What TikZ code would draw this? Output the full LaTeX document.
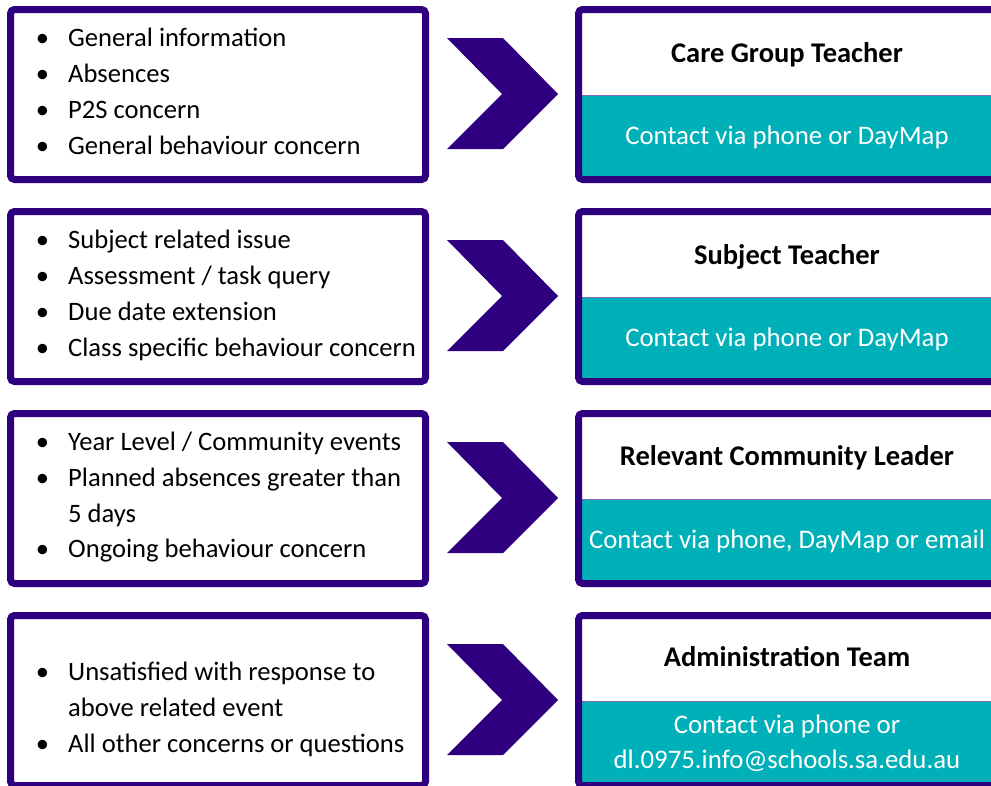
\documentclass[tikz,border=0pt]{standalone}
\usepackage{fontspec}
\setmainfont{Carlito}
\usepackage{tikz}
\definecolor{edge}{RGB}{46,0,128}
\definecolor{contact}{RGB}{0,176,185}
\newcommand{\itm}{\llap{\textbullet\hspace{19pt}}}

\begin{document}
\begin{tikzpicture}[x=1pt,y=-1pt,
    frame/.style={draw=edge,line width=7pt,rounded corners=4pt},
    item/.style={anchor=base west,inner sep=0pt,font=\fontsize{26.6}{32}\selectfont},
    head/.style={anchor=base,inner sep=0pt,font=\fontsize{28.5}{34}\selectfont\bfseries},
    via/.style={anchor=base,inner sep=0pt,text=white,font=\fontsize{26.8}{32}\selectfont}]
    \useasboundingbox (0,0) rectangle (991,785);
    \clip (0,0) rectangle (991,785);
    \foreach \t in {6,208,410,612}{
      \draw[frame] (10.5,\t+3.5) rectangle (425.5,\t+173.5);
      \fill[contact] (578.5,\t+89) rectangle (996,\t+173.5);
      \draw[edge!60,line width=1pt] (578.5,\t+89) -- (996,\t+89);
      \draw[frame] (578.5,\t+3.5) rectangle (996,\t+173.5);
      \fill[edge] (447,\t+32) -- (503,\t+32) -- (558,\t+88) -- (503,\t+143) -- (447,\t+143) -- (502,\t+88) -- cycle;
    }
    % left lists
    \node[item] (info1) at (68,46) {\itm General information};
    \node[item] (info2) at (68,82) {\itm Absences};
    \node[item] (info3) at (68,118) {\itm P2S concern};
    \node[item] (info4) at (68,154) {\itm General behaviour concern};
    \node[item] (subj1) at (68,248) {\itm Subject related issue};
    \node[item] (subj2) at (68,284) {\itm Assessment / task query};
    \node[item] (subj3) at (68,320) {\itm Due date extension};
    \node[item] (subj4) at (68,356) {\itm Class specific behaviour concern};
    \node[item] (year1) at (68,450) {\itm Year Level / Community events};
    \node[item] (year2) at (68,486) {\itm Planned absences greater than};
    \node[item] (year3) at (68,522) {5 days};
    \node[item] (year4) at (68,557) {\itm Ongoing behaviour concern};
    \node[item] (admin1) at (68,680) {\itm Unsatisfied with response to};
    \node[item] (admin2) at (68,716) {above related event};
    \node[item] (admin3) at (68,752) {\itm All other concerns or questions};
    % right boxes
    \node[head] (head1) at (787,62) {Care Group Teacher};
    \node[via] (via1) at (787,144) {Contact via phone or DayMap};
    \node[head] (head2) at (787,264) {Subject Teacher};
    \node[via] (via2) at (787,346) {Contact via phone or DayMap};
    \node[head] (head3) at (787,465) {Relevant Community Leader};
    \node[via] (via3) at (787,548) {Contact via phone, DayMap or email};
    \node[head] (head4) at (787,666) {Administration Team};
    \node[via] (via4a) at (787,733) {Contact via phone or};
    \node[via] (via4b) at (787,768) {dl.0975.info@schools.sa.edu.au};
\end{tikzpicture}
\end{document}
